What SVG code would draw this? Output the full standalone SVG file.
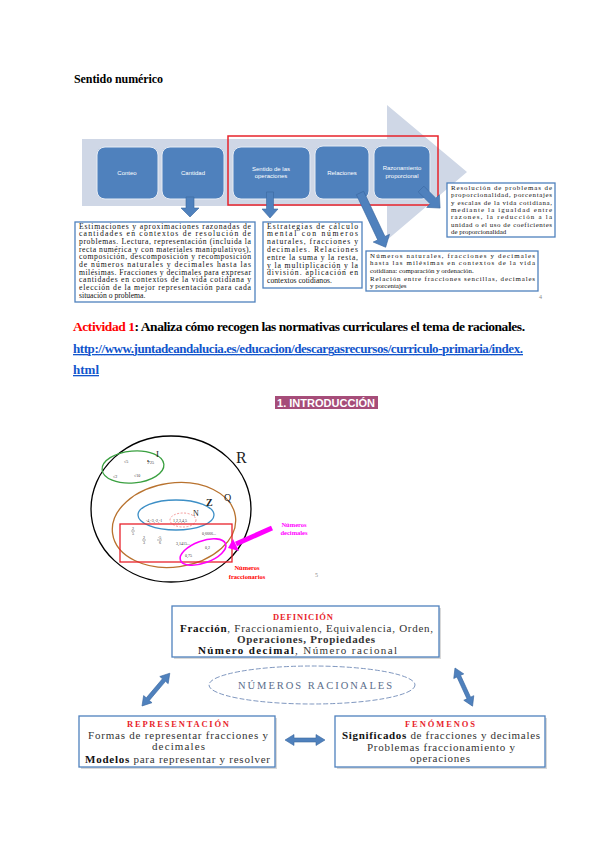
<svg xmlns="http://www.w3.org/2000/svg" width="600" height="848" viewBox="0 0 600 848">
<style>
.serif{font-family:"Liberation Serif","Times New Roman",serif}
.sans{font-family:"Liberation Sans",Arial,sans-serif}
.bt{font-family:"Liberation Serif",serif;font-size:7.7px;fill:#111}
.bs{font-family:"Liberation Serif",serif;font-size:6.9px;fill:#111}
.box{fill:#fff;stroke:#4f81bd;stroke-width:1.3}
.shadow{fill:#d9d9d9}
.node{fill:#4f81bd;stroke:#e6ecf5;stroke-width:1}
.lbl{font-family:"Liberation Sans",Arial,sans-serif;font-size:6px;fill:#fff;text-anchor:middle}
.arr{fill:#4f81bd;stroke:#3b68a0;stroke-width:0.6}
.dt{font-family:"Liberation Serif",serif;font-size:11px;fill:#333}
.vt{font-family:"Liberation Serif",serif;font-size:4px;fill:#333}
</style>
<rect width="600" height="848" fill="#fff"/>

<text class="serif" x="74" y="83" font-size="12" font-weight="bold" fill="#000" textLength="89">Sentido numérico</text>

<!-- top process diagram -->
<g id="bigarrow"><polygon points="82,139 387,139 387,105 467,172 387,240 387,206 82,206" fill="#cfd7e6"/></g>
<g id="n-conteo"><rect class="node" x="97" y="147" width="61" height="52" rx="8"/><text class="lbl" x="127" y="175">Conteo</text></g>
<g id="n-cantidad"><rect class="node" x="162" y="147" width="62" height="52" rx="8"/><text class="lbl" x="193" y="175">Cantidad</text></g>
<g id="n-sentido"><rect class="node" x="233" y="147" width="77" height="52" rx="8"/><text class="lbl" x="271" y="171">Sentido de las</text><text class="lbl" x="271" y="178">operaciones</text></g>
<g id="n-relaciones"><rect class="node" x="315" y="146" width="54" height="53" rx="8"/><text class="lbl" x="342" y="175">Relaciones</text></g>
<g id="n-razonamiento"><rect class="node" x="374" y="146" width="56" height="53" rx="8"/><text class="lbl" x="402" y="170">Razonamiento</text><text class="lbl" x="402" y="178" font-size="7">proporcional</text></g>
<g id="redframe"><rect x="228" y="136" width="210" height="69" fill="none" stroke="#e8232b" stroke-width="1.5"/></g>

<g id="connectors">
<polygon class="arr" transform="translate(190,197)" points="-4,0 4,0 4,11 9,11 0,20 -9,11 -4,11"/>
<polygon class="arr" transform="translate(270,192)" points="-3.5,0 3.5,0 3.5,17 8,17 0,26 -8,17 -3.5,17"/>
<polygon class="arr" transform="translate(360,193) rotate(-25.3)" points="-4,0 4,0 4,50 9,50 0,60 -9,50 -4,50"/>
<polygon class="arr" transform="translate(421,189) rotate(-45)" points="-4,0 4,0 4,17 9,17 0,27 -9,17 -4,17"/>
</g>

<g id="t-a"><rect class="box" x="75" y="222" width="180" height="80"/>
<text class="bt" x="79" y="228.5" textLength="172" lengthAdjust="spacing">Estimaciones y aproximaciones razonadas de</text>
<text class="bt" x="79" y="236.2" textLength="172" lengthAdjust="spacing">cantidades en contextos de resolución de</text>
<text class="bt" x="79" y="243.9" textLength="172" lengthAdjust="spacing">problemas. Lectura, representación (incluida la</text>
<text class="bt" x="79" y="251.6" textLength="172" lengthAdjust="spacing">recta numérica y con materiales manipulativos),</text>
<text class="bt" x="79" y="259.3" textLength="172" lengthAdjust="spacing">composición, descomposición y recomposición</text>
<text class="bt" x="79" y="267" textLength="172" lengthAdjust="spacing">de números naturales y decimales hasta las</text>
<text class="bt" x="79" y="274.7" textLength="172" lengthAdjust="spacing">milésimas. Fracciones y decimales para expresar</text>
<text class="bt" x="79" y="282.4" textLength="172" lengthAdjust="spacing">cantidades en contextos de la vida cotidiana y</text>
<text class="bt" x="79" y="290.1" textLength="172" lengthAdjust="spacing">elección de la mejor representación para cada</text>
<text class="bt" x="79" y="297.8">situación o problema.</text></g>

<g id="t-b"><rect class="box" x="263" y="222" width="99" height="66"/>
<text class="bt" x="267" y="228.5" textLength="91" lengthAdjust="spacing">Estrategias de cálculo</text>
<text class="bt" x="267" y="236.3" textLength="91" lengthAdjust="spacing">mental con números</text>
<text class="bt" x="267" y="244.1" textLength="91" lengthAdjust="spacing">naturales, fracciones y</text>
<text class="bt" x="267" y="251.9" textLength="91" lengthAdjust="spacing">decimales. Relaciones</text>
<text class="bt" x="267" y="259.7" textLength="91" lengthAdjust="spacing">entre la suma y la resta,</text>
<text class="bt" x="267" y="267.5" textLength="91" lengthAdjust="spacing">y la multiplicación y la</text>
<text class="bt" x="267" y="275.3" textLength="91" lengthAdjust="spacing">división. aplicación en</text>
<text class="bt" x="267" y="283.1">contextos cotidianos.</text></g>

<g id="t-c"><rect class="box" x="366" y="251" width="172" height="40"/>
<text class="bs" x="370" y="257.5" textLength="165" lengthAdjust="spacing">Números naturales, fracciones y decimales</text>
<text class="bs" x="370" y="265.2" textLength="165" lengthAdjust="spacing">hasta las milésimas en contextos de la vida</text>
<text class="bs" x="370" y="272.9">cotidiana: comparación y ordenación.</text>
<text class="bs" x="370" y="280.6" textLength="165" lengthAdjust="spacing">Relación entre fracciones sencillas, decimales</text>
<text class="bs" x="370" y="288.3">y porcentajes</text></g>

<g id="t-d"><rect class="box" x="447" y="183" width="108" height="54"/>
<text class="bs" x="451" y="190" textLength="101" lengthAdjust="spacing">Resolución de problemas de</text>
<text class="bs" x="451" y="197.3" textLength="101" lengthAdjust="spacing">proporcionalidad, porcentajes</text>
<text class="bs" x="451" y="204.6" textLength="101" lengthAdjust="spacing">y escalas de la vida cotidiana,</text>
<text class="bs" x="451" y="211.9" textLength="101" lengthAdjust="spacing">mediante la igualdad entre</text>
<text class="bs" x="451" y="219.2" textLength="101" lengthAdjust="spacing">razones, la reducción a la</text>
<text class="bs" x="451" y="226.5" textLength="101" lengthAdjust="spacing">unidad o el uso de coeficientes</text>
<text class="bs" x="451" y="233.8">de proporcionalidad</text></g>
<text class="serif" x="539" y="299" font-size="6" fill="#888">4</text>

<!-- activity -->
<text class="serif" x="73" y="331" font-size="13.5" font-weight="bold" fill="#000" textLength="452" lengthAdjust="spacing"><tspan fill="#ff0000">Actividad 1</tspan>: Analiza cómo recogen las normativas curriculares el tema de racionales.</text>
<text class="serif" x="73" y="353" font-size="13" font-weight="bold" fill="#1155cc" text-decoration="underline" textLength="450" lengthAdjust="spacing">http://www.juntadeandalucia.es/educacion/descargasrecursos/curriculo-primaria/index.</text>
<text class="serif" x="73" y="374" font-size="13" font-weight="bold" fill="#1155cc" text-decoration="underline">html</text>

<g id="intro"><rect x="275" y="396" width="103" height="13" fill="#a64d79"/>
<text class="sans" x="277" y="407" font-size="11" font-weight="bold" fill="#fff" textLength="98" lengthAdjust="spacingAndGlyphs">1.  INTRODUCCIÓN</text></g>

<!-- Venn -->
<g id="venn">
<ellipse cx="171" cy="509" rx="80" ry="73" fill="none" stroke="#000" stroke-width="1.3"/>
<text class="serif" x="236" y="463" font-size="16" fill="#222">R</text>
<ellipse cx="133" cy="467" rx="31" ry="16" fill="none" stroke="#3aa040" stroke-width="1.3" transform="rotate(-5 133 467)"/>
<text class="serif" x="156" y="457" font-size="9" fill="#222">I</text>
<text class="vt" x="124" y="463">√5</text><text class="vt" x="147" y="464">∛25</text>
<text class="vt" x="113" y="478">√2</text><text class="vt" x="134" y="477">√10</text>
<ellipse cx="174" cy="525" rx="62" ry="42" fill="none" stroke="#b8722e" stroke-width="1.3" transform="rotate(-8 174 525)"/>
<text class="serif" x="224" y="501" font-size="10" fill="#222">Q</text>
<ellipse cx="176" cy="515" rx="38" ry="15" fill="none" stroke="#3d8fc6" stroke-width="1.3"/>
<text class="serif" x="206" y="506" font-size="10" font-weight="bold" fill="#222">Z</text>
<text class="serif" x="193" y="516" font-size="8" fill="#222">N</text>
<ellipse cx="183" cy="520" rx="13" ry="7" fill="none" stroke="#f08080" stroke-width="0.8" stroke-dasharray="2 1.5"/>
<text class="vt" x="146" y="522">-4,-3,-2,-1</text>
<text class="vt" x="173" y="522">1,2,3,4,5</text>
<rect x="120" y="524" width="112" height="38" fill="none" stroke="#e8232b" stroke-width="1.3"/>
<text class="vt" x="132" y="530">2</text><line x1="131" y1="531" x2="135" y2="531" stroke="#333" stroke-width="0.4"/><text class="vt" x="132" y="535">5</text>
<text class="vt" x="143" y="539">2</text><line x1="142" y1="540" x2="146" y2="540" stroke="#333" stroke-width="0.4"/><text class="vt" x="143" y="544">3</text>
<text class="vt" x="158" y="539">-5</text><line x1="157" y1="540" x2="162" y2="540" stroke="#333" stroke-width="0.4"/><text class="vt" x="159" y="544">6</text>
<text class="vt" x="176" y="545">3,1415...</text>
<text class="vt" x="202" y="535">0,6666...</text>
<text class="vt" x="205" y="549">0,2</text>
<text class="vt" x="185" y="557">0,75</text>
<ellipse cx="203" cy="552" rx="24" ry="11" fill="none" stroke="#ff00ff" stroke-width="1.6" transform="rotate(-20 203 552)"/>
<line x1="272" y1="528" x2="236" y2="544" stroke="#ff00ff" stroke-width="5"/>
<polygon points="228,548 233,539 239,551" fill="#ff00ff"/>
<text class="serif" x="294" y="527" font-size="6.5" font-weight="bold" fill="#ff00ff" text-anchor="middle">Números</text>
<text class="serif" x="294" y="535" font-size="6.5" font-weight="bold" fill="#ff00ff" text-anchor="middle">decimales</text>
<text class="serif" x="247" y="570" font-size="6.5" font-weight="bold" fill="#ff0000" text-anchor="middle">Números</text>
<text class="serif" x="247" y="579" font-size="6.5" font-weight="bold" fill="#ff0000" text-anchor="middle">fraccionarios</text>
<text class="serif" x="315" y="577" font-size="6" fill="#888">5</text>
</g>

<!-- bottom concept map -->
<g id="n-definicion"><rect class="shadow" x="174" y="608" width="267" height="51"/><rect class="box" x="172" y="606" width="267" height="51"/>
<text class="serif" x="303" y="620" font-size="8.5" font-weight="bold" fill="#e8232b" text-anchor="middle" textLength="60" lengthAdjust="spacing">DEFINICIÓN</text>
<text class="dt" x="180" y="632" textLength="253" lengthAdjust="spacing"><tspan font-weight="bold" fill="#111">Fracción</tspan>, Fraccionamiento, Equivalencia, Orden,</text>
<text class="dt" x="237" y="643" font-weight="bold" fill="#111" textLength="138" lengthAdjust="spacing">Operaciones, Propiedades</text>
<text class="dt" x="198" y="654" textLength="199" lengthAdjust="spacing"><tspan font-weight="bold" fill="#111">Número decimal</tspan>, Número racional</text></g>

<g id="n-racionales"><ellipse cx="312" cy="685" rx="103" ry="19" fill="#fff" stroke="#7f97bf" stroke-width="1" stroke-dasharray="5 2"/>
<text class="serif" x="238" y="689" font-size="10.5" fill="#5a6d8a" textLength="154" lengthAdjust="spacing">NÚMEROS RACIONALES</text></g>

<g id="n-representacion"><rect class="shadow" x="81" y="718" width="196" height="51"/><rect class="box" x="79" y="716" width="196" height="51"/>
<text class="serif" x="178" y="727" font-size="8.5" font-weight="bold" fill="#e8232b" text-anchor="middle" textLength="102" lengthAdjust="spacing">REPRESENTACIÓN</text>
<text class="dt" x="88" y="739" textLength="180" lengthAdjust="spacing">Formas de representar fracciones y</text>
<text class="dt" x="152" y="750" textLength="53" lengthAdjust="spacing">decimales</text>
<text class="dt" x="85" y="763" textLength="185" lengthAdjust="spacing"><tspan font-weight="bold" fill="#111">Modelos</tspan> para representar y resolver</text></g>

<g id="n-fenomenos"><rect class="shadow" x="337" y="718" width="210" height="51"/><rect class="box" x="335" y="716" width="210" height="51"/>
<text class="serif" x="440" y="727" font-size="8.5" font-weight="bold" fill="#e8232b" text-anchor="middle" textLength="70" lengthAdjust="spacing">FENÓMENOS</text>
<text class="dt" x="342" y="739" textLength="198" lengthAdjust="spacing"><tspan font-weight="bold" fill="#111">Significados</tspan> de fracciones y decimales</text>
<text class="dt" x="367" y="751" textLength="148" lengthAdjust="spacing">Problemas fraccionamiento y</text>
<text class="dt" x="410" y="762" textLength="60" lengthAdjust="spacing">operaciones</text></g>

<g id="connectors-bottom">
<polygon class="arr" transform="translate(142,706) rotate(-49.7)" points="0,0 9,-5.5 9,-2 34,-2 34,-5.5 43,0 34,5.5 34,2 9,2 9,5.5"/>
<polygon class="arr" transform="translate(455,668) rotate(65.3)" points="0,0 9,-5.5 9,-2 33,-2 33,-5.5 42,0 33,5.5 33,2 9,2 9,5.5"/>
<polygon class="arr" transform="translate(285,740)" points="0,0 9,-5.5 9,-2 31,-2 31,-5.5 40,0 31,5.5 31,2 9,2 9,5.5"/>
</g>
</svg>
